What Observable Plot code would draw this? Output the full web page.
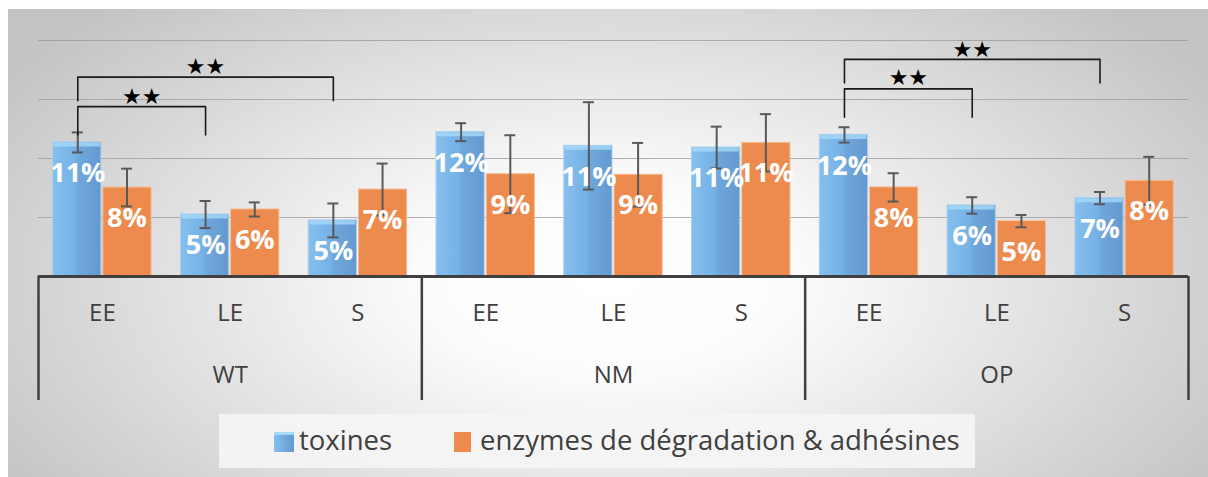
<!DOCTYPE html>
<html>
<head>
<meta charset="utf-8">
<script src="https://cdn.jsdelivr.net/npm/d3@7"></script>
<script src="https://cdn.jsdelivr.net/npm/@observablehq/plot@0.6"></script>
<style>
  html, body { margin: 0; padding: 0; background: #ffffff; }
  #chart {
    position: absolute; left: 8px; top: 9px; width: 1200px; height: 468px;
    background: radial-gradient(ellipse 60% 80% at 50% 58%, #ffffff 0%, #fcfcfc 25%, #e2e2e2 60%, #c4c4c4 100%);
    font-family: "Open Sans", sans-serif; overflow: hidden;
  }
  #plot { position: absolute; left: 0; top: 0; }
  #legend {
    position: absolute; left: 211px; top: 405px; width: 756px; height: 54px;
    background: rgba(245,245,245,0.9);
    color: #404040; font-size: 27.5px;
  }
  .sw { position: absolute; top: 18px; height: 20px; }
  .lt { position: absolute; top: 8px; line-height: 36px; white-space: nowrap; }
</style>
</head>
<body>
<div id="chart">
  <div id="plot"></div>
  <div id="legend"></div>
</div>
<script>
// ---- data (values in %) ----
const groups = ["WT", "NM", "OP"];
const subs = ["EE", "LE", "S"];
const seriesNames = ["toxines", "enzymes de dégradation & adhésines"];
const toxines    = [11.36, 5.25, 4.75, 12.23, 11.07, 10.93, 12.00, 6.02, 6.64];
const toxinesErr = [0.85, 1.15, 1.44, 0.76, 3.70, 1.77, 0.65, 0.70, 0.52];
const enzymes    = [7.54, 5.68, 7.37, 8.67, 8.62, 11.33, 7.55, 4.69, 8.11];
const enzymesErr = [1.60, 0.60, 2.20, 3.30, 2.70, 2.43, 1.20, 0.52, 2.03];
const yTicks = [5, 10, 15, 20];
const brackets = [
  {group: "WT", from: "EE", to: "LE", top: 14.4, foot: 12.0, star: 15.25, label: "★★"},
  {group: "WT", from: "EE", to: "S",  top: 16.9, foot: 14.9, star: 17.8,  label: "★★"},
  {group: "OP", from: "EE", to: "LE", top: 15.9, foot: 13.5, star: 16.8,  label: "★★"},
  {group: "OP", from: "EE", to: "S",  top: 18.4, foot: 16.4, star: 19.2,  label: "★★"}
];

// ---- layout ----
const W = 1200, H = 400;
const mL = 30, mR = 20, mT = 31, mB = 133;
const plotW = W - mL - mR, plotH = H - mT - mB;
const PAD = 0.115;                       // half of the gap between category bands
const capHalf = 5.5 * 9 / plotW;         // error-bar cap half width in x units
const axisDepth = 124;                   // depth of the two-tier category axis (px)

const cats = [];
groups.forEach((g, gi) => subs.forEach((s, si) => cats.push({i: gi * 3 + si, group: g, sub: s})));
const idx = (g, s) => groups.indexOf(g) * 3 + subs.indexOf(s);

const rows = [];
cats.forEach(c => {
  rows.push({...c, series: seriesNames[0], k: 0, value: toxines[c.i], err: toxinesErr[c.i]});
  rows.push({...c, series: seriesNames[1], k: 1, value: enzymes[c.i], err: enzymesErr[c.i]});
});
const x1 = d => d.i + (d.k === 0 ? PAD : 0.5);
const x2 = d => d.i + (d.k === 0 ? 0.5 : 1 - PAD);
const xc = d => (x1(d) + x2(d)) / 2;
const tox = rows.filter(d => d.k === 0);
const enz = rows.filter(d => d.k === 1);
const toxCenter = i => i + (PAD + 0.5) / 2;

const bracketPts = [];
brackets.forEach((b, bi) => {
  const a = toxCenter(idx(b.group, b.from)), c = toxCenter(idx(b.group, b.to));
  bracketPts.push({b: bi, x: a, y: b.foot}, {b: bi, x: a, y: b.top}, {b: bi, x: c, y: b.top}, {b: bi, x: c, y: b.foot});
});

const svg = Plot.plot({
  width: W, height: H,
  marginLeft: mL, marginRight: mR, marginTop: mT, marginBottom: mB,
  x: {domain: [0, 9], axis: null},
  y: {domain: [0, 20], axis: null},
  style: {background: "transparent", overflow: "visible", fontFamily: "Open Sans, sans-serif"},
  marks: [
    Plot.ruleY(yTicks, {stroke: "#9a9a9a", strokeOpacity: 0.75, strokeWidth: 1}),
    Plot.rectY(tox, {x1, x2, y: "value", fill: "url(#toxFill)", stroke: "#a9cdef", strokeWidth: 1, insetRight: 1}),
    Plot.rectY(enz, {x1, x2, y: "value", fill: "#ec8b4d", stroke: "#f5bc94", strokeWidth: 1, insetLeft: 1}),
    Plot.ruleY(tox, {x1, x2, y: "value", stroke: "#a6dbf7", strokeOpacity: 0.8, strokeWidth: 4, dy: 2, insetLeft: 1, insetRight: 2}),
    Plot.ruleX(rows, {x: xc, y1: d => d.value - d.err, y2: d => d.value + d.err, stroke: "#595959", strokeWidth: 2}),
    Plot.ruleY(rows, {x1: d => xc(d) - capHalf, x2: d => xc(d) + capHalf, y: d => d.value + d.err, stroke: "#595959", strokeWidth: 2}),
    Plot.ruleY(rows, {x1: d => xc(d) - capHalf, x2: d => xc(d) + capHalf, y: d => d.value - d.err, stroke: "#595959", strokeWidth: 2}),
    Plot.text(rows, {x: xc, y: "value", text: d => Math.round(d.value) + "%", dy: 31, fill: "white", fontSize: 27, fontWeight: "bold"}),
    Plot.ruleY([0], {stroke: "#404040", strokeWidth: 3}),
    Plot.ruleX([0, 3, 6, 9], {x: d => d, insetTop: plotH, insetBottom: -axisDepth, stroke: "#404040", strokeWidth: 2.5}),
    Plot.text(cats, {x: d => d.i + 0.5, text: "sub", frameAnchor: "bottom", dy: 44, fontSize: 24, fill: "#404040"}),
    Plot.text(groups, {x: (d, gi) => gi * 3 + 1.5, text: d => d, frameAnchor: "bottom", dy: 106, fontSize: 24, fill: "#404040"}),
    Plot.line(bracketPts, {x: "x", y: "y", z: "b", stroke: "#1a1a1a", strokeWidth: 1.6, curve: "linear"}),
    Plot.text(brackets, {x: b => (toxCenter(idx(b.group, b.from)) + toxCenter(idx(b.group, b.to))) / 2, y: "star", text: "label", fontSize: 22, fill: "#000", fontFamily: "DejaVu Sans"})
  ]
});
svg.insertAdjacentHTML("afterbegin",
  `<defs><linearGradient id="toxFill" x1="0" x2="1" y1="0" y2="0">
     <stop offset="0" stop-color="#84bfee"/><stop offset="0.45" stop-color="#77b2e6"/>
     <stop offset="0.55" stop-color="#6ea7dd"/><stop offset="1" stop-color="#6499cf"/>
   </linearGradient></defs>`);
document.getElementById("plot").appendChild(svg);

// ---- legend ----
const legend = document.getElementById("legend");
const items = [
  {name: seriesNames[0], sw: 55, sww: 20, tx: 80, bg: "linear-gradient(90deg,#84bfee,#6499cf)", bt: "3px solid #a6dbf7"},
  {name: seriesNames[1], sw: 235, sww: 17, tx: 261, bg: "#ec8b4d", bt: "none"}
];
items.forEach(it => {
  const s = document.createElement("div");
  s.className = "sw";
  s.style.left = it.sw + "px"; s.style.width = it.sww + "px";
  s.style.background = it.bg; s.style.borderTop = it.bt; s.style.boxSizing = "border-box";
  legend.appendChild(s);
  const t = document.createElement("div");
  t.className = "lt"; t.style.left = it.tx + "px"; t.textContent = it.name;
  legend.appendChild(t);
});
</script>
</body>
</html>
